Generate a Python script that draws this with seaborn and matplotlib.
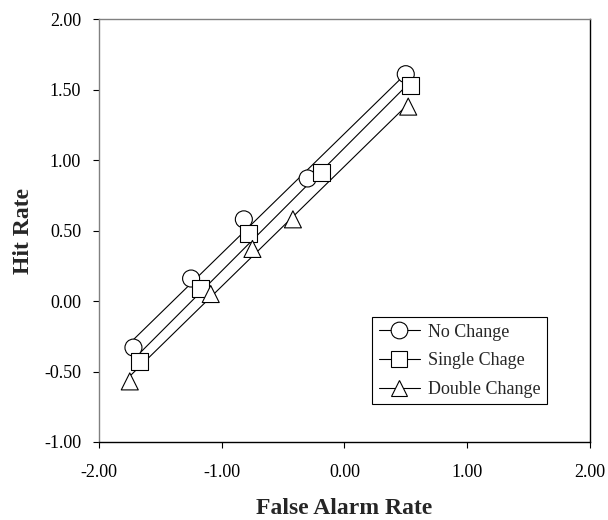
import numpy as np
import pandas as pd
import matplotlib
matplotlib.use("Agg")
import matplotlib.pyplot as plt
from matplotlib.lines import Line2D
import seaborn as sns

# Veriler
series_names = ["No Change", "Single Chage", "Double Change"]
no_change_x = [-1.72, -1.25, -0.82, -0.30, 0.50]
no_change_y = [-0.33, 0.16, 0.58, 0.87, 1.61]
single_x = [-1.67, -1.17, -0.78, -0.19, 0.54]
single_y = [-0.43, 0.09, 0.48, 0.91, 1.53]
double_x = [-1.75, -1.09, -0.75, -0.42, 0.52]
double_y = [-0.57, 0.05, 0.37, 0.58, 1.38]

x_ticks = [-2.0, -1.0, 0.0, 1.0, 2.0]
x_tick_labels = ["-2.00", "-1.00", "0.00", "1.00", "2.00"]
y_ticks = [-1.0, -0.5, 0.0, 0.5, 1.0, 1.5, 2.0]
y_tick_labels = ["-1.00", "-0.50", "0.00", "0.50", "1.00", "1.50", "2.00"]

sns.set_style("ticks")
plt.rcParams["font.family"] = ["Liberation Serif", "DejaVu Serif"]
plt.rcParams["axes.unicode_minus"] = False

markers = {"No Change": "o", "Single Chage": "s", "Double Change": "^"}
xs = [no_change_x, single_x, double_x]
ys = [no_change_y, single_y, double_y]

df = pd.concat(
    [pd.DataFrame({"x": x, "y": y, "series": n}) for n, x, y in zip(series_names, xs, ys)],
    ignore_index=True,
)

fig = plt.figure(figsize=(6.08, 5.2), dpi=100)
ax = fig.add_axes([0.163, 0.15, 0.807, 0.813])

# doğrusal eğilim çizgileri
for n in series_names:
    sub = df[df["series"] == n]
    sns.regplot(data=sub, x="x", y="y", scatter=False, ci=None, truncate=True,
                color="black", line_kws=dict(lw=0.8, zorder=2), ax=ax)

sns.scatterplot(data=df, x="x", y="y", style="series", markers=markers, s=150,
                color="white", edgecolor="black", linewidth=0.8, zorder=3,
                legend=False, ax=ax)

ax.set_xlim(-2, 2)
ax.set_ylim(-1, 2)
ax.set_xticks(x_ticks)
ax.set_xticklabels(x_tick_labels)
ax.set_yticks(y_ticks)
ax.set_yticklabels(y_tick_labels)
ax.tick_params(direction="out", length=4, width=0.8, labelsize=13, colors="black")
ax.tick_params(axis="x", pad=12)
ax.tick_params(axis="y", pad=9)

ax.set_xlabel("False Alarm Rate", fontsize=17, fontweight="bold", labelpad=12)
ax.set_ylabel("Hit Rate", fontsize=17, fontweight="bold", labelpad=7)

for side in ["top", "left"]:
    ax.spines[side].set_color("#808080")
for side in ["bottom", "right"]:
    ax.spines[side].set_color("black")
for s in ax.spines.values():
    s.set_linewidth(1.0)

handles = [Line2D([0], [0], color="black", lw=0.8, marker=markers[n], markersize=12,
                  markerfacecolor="white", markeredgecolor="black", markeredgewidth=0.8)
           for n in series_names]
leg = ax.legend(handles, series_names, loc="lower left", bbox_to_anchor=(0.557, 0.089),
                borderaxespad=0, fontsize=13, frameon=True, fancybox=False,
                framealpha=1, edgecolor="black", handlelength=2.3, handletextpad=0.45,
                labelspacing=0.65, borderpad=0.35)
leg.get_frame().set_linewidth(0.8)

plt.savefig("out.png", dpi=100)
plt.close()
